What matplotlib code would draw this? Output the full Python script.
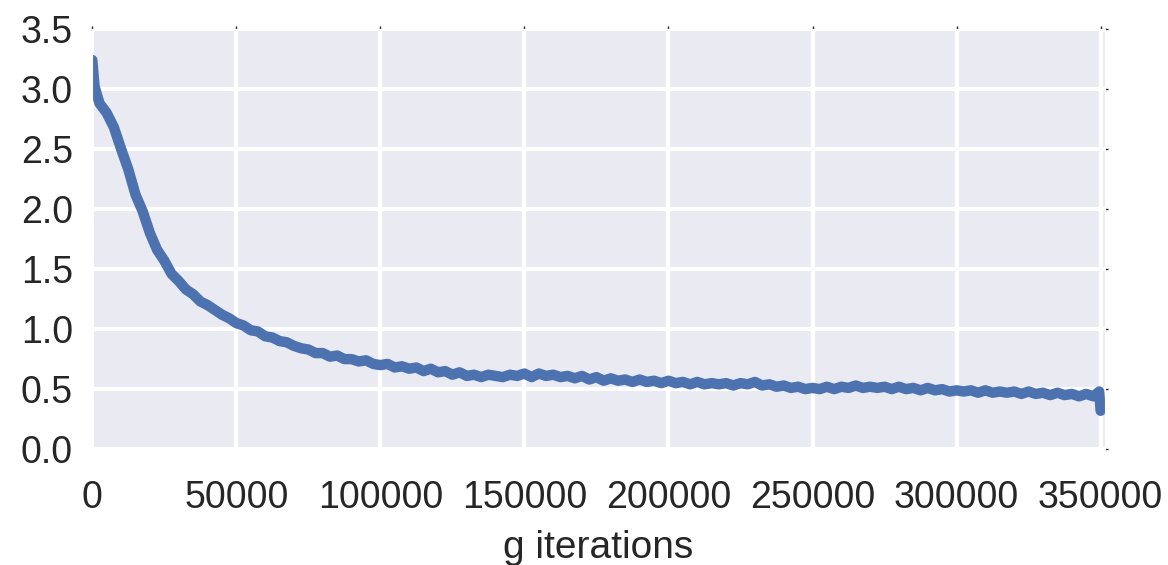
import numpy as np
import matplotlib
matplotlib.use("Agg")
import matplotlib.pyplot as plt
import seaborn as sns

# generator loss
iterations = [0, 800] + list(range(2500, 347501, 2500)) + [349500, 350000]
loss = [
    3.24, 3.02,
    2.88, 2.80, 2.68, 2.50, 2.33, 2.12, 1.98, 1.80, 1.66, 1.57,
    1.46, 1.40, 1.33, 1.29, 1.23, 1.20, 1.16, 1.12, 1.09, 1.05,
    1.03, 0.99, 0.98, 0.94, 0.93, 0.90, 0.89, 0.86, 0.84, 0.83,
    0.80, 0.80, 0.77, 0.78, 0.75, 0.75, 0.73, 0.74, 0.71, 0.70,
    0.71, 0.68, 0.69, 0.67, 0.68, 0.65, 0.67, 0.64, 0.65, 0.62,
    0.64, 0.61, 0.62, 0.60, 0.62, 0.61, 0.60, 0.62, 0.61, 0.63,
    0.60, 0.63, 0.61, 0.62, 0.60, 0.61, 0.59, 0.61, 0.58, 0.60,
    0.57, 0.59, 0.57, 0.58, 0.56, 0.58, 0.56, 0.57, 0.55, 0.57,
    0.55, 0.56, 0.54, 0.56, 0.54, 0.55, 0.54, 0.55, 0.53, 0.55,
    0.54, 0.56, 0.53, 0.54, 0.52, 0.53, 0.51, 0.52, 0.50, 0.51,
    0.50, 0.52, 0.50, 0.52, 0.51, 0.53, 0.51, 0.52, 0.51, 0.52,
    0.50, 0.52, 0.50, 0.51, 0.49, 0.51, 0.49, 0.50, 0.48, 0.49,
    0.48, 0.49, 0.47, 0.49, 0.47, 0.48, 0.47, 0.48, 0.46, 0.48,
    0.46, 0.47, 0.45, 0.47, 0.45, 0.46, 0.44, 0.46, 0.44,
    0.48, 0.32,
]

x_ticks = [0, 50000, 100000, 150000, 200000, 250000, 300000, 350000]
y_ticks = [0.0, 0.5, 1.0, 1.5, 2.0, 2.5, 3.0, 3.5]

sns.set_style("darkgrid")
plt.rcParams["font.family"] = ["Liberation Sans", "DejaVu Sans"]

fig = plt.figure(figsize=(11.68, 5.65), dpi=100)
ax = fig.add_axes([0.079, 0.205, 0.867, 0.744])

ax.plot(iterations, loss, color="#4C72B0", linewidth=7.5, solid_capstyle="round",
        solid_joinstyle="round")

ax.set_xlim(0, 351500)
ax.set_ylim(0, 3.5)
ax.set_xticks(x_ticks)
ax.set_yticks(y_ticks)
ax.set_yticklabels([f"{v:.1f}" for v in y_ticks])
ax.grid(True, color="white", linewidth=3)
ax.tick_params(axis="both", labelsize=27, colors="#262626", direction="out",
               length=2, width=1, top=True, right=True)
ax.tick_params(axis="x", pad=20)
ax.tick_params(axis="y", pad=12)
ax.set_xlabel("g iterations", fontsize=28, color="#262626", labelpad=10)

fig.savefig("out.png", dpi=100)
